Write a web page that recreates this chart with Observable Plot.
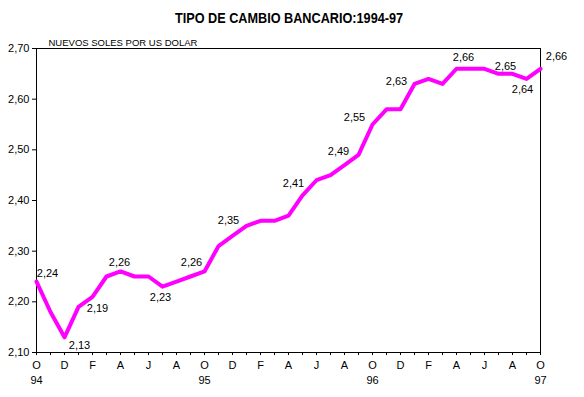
<!DOCTYPE html>
<html><head><meta charset="utf-8">
<script src="https://cdn.jsdelivr.net/npm/d3@7"></script>
<script src="https://cdn.jsdelivr.net/npm/@observablehq/plot@0.6"></script>
<style>
body{margin:0;background:#fff;font-family:"Liberation Sans",Arial,sans-serif;}
#titlebox{position:relative;width:584px;height:34px;}
#title{position:absolute;left:289px;top:0;line-height:36px;white-space:nowrap;font-weight:bold;font-size:14px;color:#000;transform:translateX(-50%) scaleX(0.905);}
</style></head><body>
<div id="titlebox"><span id="title"></span></div>
<div id="chart"></div>
<script>
const title = "TIPO DE CAMBIO BANCARIO:1994-97";
const unitLabel = "NUEVOS SOLES POR US DOLAR";
// monthly values, Oct 1994 .. Oct 1997
const values = [2.24, 2.18, 2.13, 2.19, 2.21, 2.25, 2.26, 2.25, 2.25, 2.23, 2.24, 2.25,
                2.26, 2.31, 2.33, 2.35, 2.36, 2.36, 2.37, 2.41, 2.44, 2.45, 2.47, 2.49,
                2.55, 2.58, 2.58, 2.63, 2.64, 2.63, 2.66, 2.66, 2.66, 2.65, 2.65, 2.64, 2.66];
const monthLetters = ["E","F","M","A","M","J","J","A","S","O","N","D"];
const firstMonth = 9; // October
const yearLabels = ["94","95","96","97"];
const yTicks = [2.10, 2.20, 2.30, 2.40, 2.50, 2.60, 2.70];
const labelIdx = [0, 2, 3, 6, 9, 12, 15, 19, 23, 24, 27, 30, 33, 35, 36];

const fmt = v => d3.format(".2f")(v).replace(".", ",");
document.getElementById("title").textContent = title;

// label placement (layout only)
const labelOffsets = [[11,-8],[15,8],[19,2],[-1,-9],[-2,11],[-13,-9],[-18,-5],[-9,-12],[-20,-3],[-18,-7],[-18,-2],[7,-11],[7,-7],[-4,11],[16,-12]];

const labelMarks = labelIdx.map((idx, k) => Plot.text([idx], {
  x: d => d, y: d => values[d], text: d => fmt(values[d]),
  dx: labelOffsets[k][0], dy: labelOffsets[k][1], fill: "#000"
}));

const chart = Plot.plot({
  width: 584, height: 363,
  marginLeft: 36, marginRight: 44, marginTop: 14, marginBottom: 45,
  style: {fontSize: "11px", fontFamily: "'Liberation Sans', Arial, sans-serif", color: "#000", background: "#fff"},
  x: {domain: [0, values.length - 1], label: null},
  y: {domain: [2.10, 2.70], label: null},
  marks: [
    Plot.frame({stroke: "#000"}),
    Plot.axisY({ticks: yTicks, tickFormat: fmt, tickSize: 4, tickPadding: 3}),
    Plot.axisX({ticks: d3.range(values.length), tickFormat: i => i % 2 === 0 ? monthLetters[(firstMonth + i) % 12] : "", tickSize: 3, tickPadding: 6}),
    Plot.axisX({ticks: yearLabels.map((_, k) => k * 12), tickFormat: i => yearLabels[i / 12], tickSize: 0, tickPadding: 24}),
    Plot.line(values, {x: (d, i) => i, y: d => d, stroke: "#ff00ff", strokeWidth: 4}),
    Plot.text([unitLabel], {frameAnchor: "top-left", text: d => d, textAnchor: "start", dx: 12, dy: -9, fontSize: 9.5, fill: "#000"}),
    ...labelMarks
  ]
});
document.getElementById("chart").appendChild(chart);
</script>
</body></html>
